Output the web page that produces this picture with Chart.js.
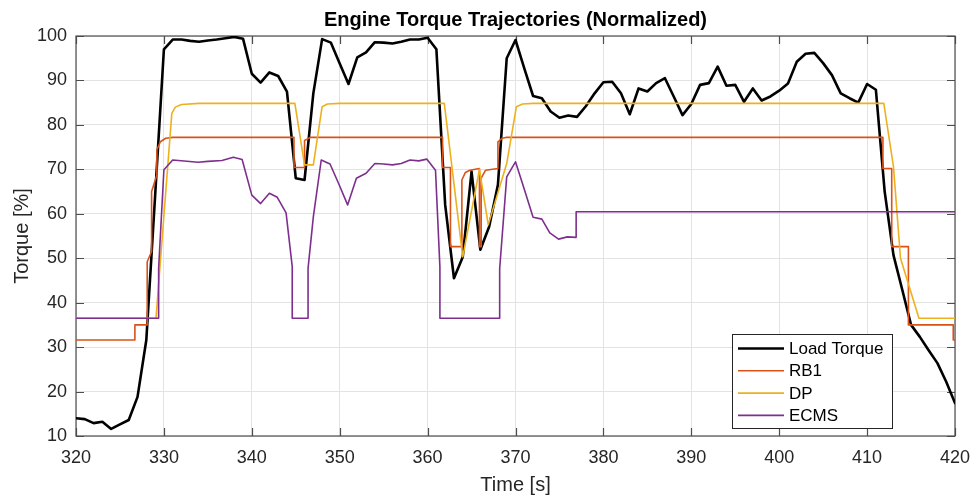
<!DOCTYPE html>
<html>
<head>
<meta charset="utf-8">
<title>Engine Torque Trajectories</title>
<script src="https://cdn.jsdelivr.net/npm/chart.js@4/dist/chart.umd.min.js"></script>
<style>
  html, body { margin: 0; padding: 0; background: #ffffff; }
  #wrap { width: 974px; height: 500px; }
</style>
</head>
<body>
<div id="wrap"><canvas id="c" width="974" height="500"></canvas></div>
<script>
// Load torque, sampled once per second
const loadTime = [
  320, 321, 322, 323, 324, 325, 326, 327, 328, 329,
  330, 331, 332, 333, 334, 335, 336, 337, 338, 339,
  340, 341, 342, 343, 344, 345, 346, 347, 348, 349,
  350, 351, 352, 353, 354, 355, 356, 357, 358, 359,
  360, 361, 362, 363, 364, 365, 366, 367, 368, 369,
  370, 371, 372, 373, 374, 375, 376, 377, 378, 379,
  380, 381, 382, 383, 384, 385, 386, 387, 388, 389,
  390, 391, 392, 393, 394, 395, 396, 397, 398, 399,
  400, 401, 402, 403, 404, 405, 406, 407, 408, 409,
  410, 411, 412, 413, 414, 415, 416, 417, 418, 419,
  420
];
const loadTorque = [
  14.0, 13.8, 12.9, 13.2, 11.6, 12.6, 13.6, 18.8, 31.6, 64.0,
  97.0, 99.2, 99.2, 98.9, 98.7, 99.0, 99.2, 99.5, 99.8, 99.4,
  91.5, 89.5, 91.8, 91.0, 87.5, 68.0, 67.6, 87.1, 99.3, 98.5,
  93.8, 89.2, 95.2, 96.3, 98.6, 98.5, 98.3, 98.7, 99.2, 99.2,
  99.6, 97.0, 62.0, 45.5, 50.3, 69.5, 51.9, 57.1, 66.5, 95.0,
  99.1, 92.7, 86.5, 86.0, 83.0, 81.6, 82.1, 81.8, 84.2, 87.1,
  89.6, 89.7, 87.1, 82.4, 88.2, 87.5, 89.4, 90.5, 86.4, 82.2,
  84.7, 89.0, 89.4, 93.1, 88.8, 89.0, 85.2, 88.2, 85.5, 86.4,
  87.7, 89.3, 94.2, 96.0, 96.2, 93.9, 91.2, 87.1, 86.0, 85.0,
  89.2, 87.9, 65.0, 50.7, 42.9, 35.0, 32.3, 29.3, 26.4, 22.2,
  17.4
];

// RB1 controller output (corner points of the stepped trajectory)
const rb1Time = [
  320, 326.7, 326.7, 328.1, 328.1, 328.6, 328.6, 329.2, 329.2, 329.6, 330.2, 331,
  344.8, 344.8, 346.0, 346.0, 346.7,
  361.7, 361.7, 362.6, 362.6, 363.9, 363.9, 364.3, 364.8, 365.9, 365.9, 366.1, 366.1, 366.6, 368.0, 368.0, 368.5, 369,
  411.8, 411.8, 412.8, 412.8, 414.7, 414.7, 419.8, 419.8, 420
];
const rb1Torque = [
  31.6, 31.6, 35.0, 35.0, 49.2, 51.5, 65.0, 68.7, 74.4, 76.2, 77.0, 77.2,
  77.2, 70.4, 70.4, 76.5, 77.2,
  77.2, 70.4, 70.4, 52.6, 52.6, 67.6, 69.3, 69.8, 70.2, 52.6, 52.6, 68.0, 69.8, 70.2, 76.2, 77.0, 77.2,
  77.2, 70.2, 70.2, 52.6, 52.6, 35.0, 35.0, 31.6, 31.6
];

// Dynamic programming benchmark
const dpTime = [
  320, 329.1, 330.9, 331.3, 332, 334,
  344.9, 346.0, 347.0, 348.0, 348.6, 350,
  361.9, 364.0, 365.9, 366.9, 369.0, 370.1, 370.8, 372,
  411.9, 413.0, 413.8, 415.9, 420
];
const dpTorque = [
  36.5, 36.5, 82.6, 84.0, 84.6, 84.85,
  84.85, 71.0, 71.0, 84.1, 84.7, 84.85,
  84.85, 50.3, 70.0, 57.5, 71.3, 84.1, 84.7, 84.85,
  84.85, 70.6, 50.0, 36.5, 36.5
];

// Equivalent consumption minimisation strategy
const ecmsTime = [
  320, 329.4, 329.4, 330.0, 331.0, 333.9, 335, 336.6, 337.9, 338.9,
  340.0, 341.0, 342.0, 342.9, 343.9, 344.6, 344.6, 346.4, 346.4, 347.0,
  347.9, 348.9, 349.9, 350.9, 351.9, 353.0, 354, 355, 356, 357,
  358, 359, 359.9, 360.9, 361.4, 361.4, 368.2, 368.2, 369, 370,
  371, 372, 373, 373.9, 374.9, 375.9, 376.9, 376.9, 420
];
const ecmsTorque = [
  36.5, 36.5, 47.7, 69.9, 72.1, 71.6, 71.8, 72.0, 72.7, 72.2,
  64.2, 62.3, 64.6, 63.7, 60.2, 48.1, 36.5, 36.5, 47.7, 59.3,
  72.1, 71.2, 66.7, 62.0, 68.0, 69.1, 71.3, 71.2, 71.0, 71.3,
  72.1, 71.9, 72.3, 69.8, 48.0, 36.5, 36.5, 47.7, 68.3, 71.7,
  65.5, 59.2, 58.8, 55.7, 54.3, 54.8, 54.7, 60.45, 60.45
];

const xTicks = [320, 330, 340, 350, 360, 370, 380, 390, 400, 410, 420];
const yTicks = [10, 20, 30, 40, 50, 60, 70, 80, 90, 100];

const FONT = '"Liberation Sans", Arial, Helvetica, sans-serif';
const TEXT = '#262626';

function pairs(xs, ys) {
  return xs.map((x, i) => ({ x: x, y: ys[i] }));
}

// Box around the axes with inward tick marks on all four sides
const axesBox = {
  id: 'axesBox',
  beforeDatasetsDraw(chart) {
    const { ctx, chartArea: a, scales } = chart;
    const len = 8;
    ctx.save();
    ctx.strokeStyle = '#4d4d4d';
    ctx.lineWidth = 1.2;
    ctx.beginPath();
    xTicks.forEach(v => {
      const px = Math.round(scales.x.getPixelForValue(v)) + 0.5;
      ctx.moveTo(px, a.bottom); ctx.lineTo(px, a.bottom - len);
      ctx.moveTo(px, a.top); ctx.lineTo(px, a.top + len);
    });
    yTicks.forEach(v => {
      const py = Math.round(scales.y.getPixelForValue(v)) + 0.5;
      ctx.moveTo(a.left, py); ctx.lineTo(a.left + len, py);
      ctx.moveTo(a.right, py); ctx.lineTo(a.right - len, py);
    });
    ctx.stroke();
    ctx.strokeRect(a.left, a.top, a.right - a.left, a.bottom - a.top);
    ctx.restore();
  }
};

// Legend box in the lower right of the axes
const boxLegend = {
  id: 'boxLegend',
  afterDraw(chart) {
    const { ctx, chartArea: a } = chart;
    const w = 160, h = 94;
    const x0 = a.right - 63 - w, y0 = a.bottom - 8 - h;
    ctx.save();
    ctx.fillStyle = '#ffffff';
    ctx.fillRect(x0, y0, w, h);
    ctx.strokeStyle = '#262626';
    ctx.lineWidth = 1;
    ctx.strokeRect(x0 + 0.5, y0 + 0.5, w, h);
    ctx.font = '17px ' + FONT;
    ctx.textBaseline = 'middle';
    ctx.textAlign = 'left';
    chart.data.datasets.forEach((ds, r) => {
      const cy = y0 + 14.5 + r * 22.3;
      ctx.strokeStyle = ds.borderColor;
      ctx.lineWidth = ds.borderWidth;
      ctx.beginPath();
      ctx.moveTo(x0 + 6, cy);
      ctx.lineTo(x0 + 52, cy);
      ctx.stroke();
      ctx.fillStyle = '#000000';
      ctx.fillText(ds.label, x0 + 57, cy + 1);
    });
    ctx.restore();
  }
};

new Chart(document.getElementById('c'), {
  type: 'line',
  data: {
    datasets: [
      { label: 'Load Torque', data: pairs(loadTime, loadTorque), borderColor: '#000000', borderWidth: 2.6, order: 4 },
      { label: 'RB1', data: pairs(rb1Time, rb1Torque), borderColor: '#D95319', borderWidth: 1.6, order: 3 },
      { label: 'DP', data: pairs(dpTime, dpTorque), borderColor: '#EDB120', borderWidth: 1.6, order: 2 },
      { label: 'ECMS', data: pairs(ecmsTime, ecmsTorque), borderColor: '#7E2F8E', borderWidth: 1.6, order: 1 }
    ]
  },
  options: {
    responsive: false,
    animation: false,
    events: [],
    layout: { padding: { left: 0, right: 19, top: 0, bottom: 0 } },
    elements: {
      point: { radius: 0 },
      line: { tension: 0, fill: false, borderJoinStyle: 'round', borderCapStyle: 'round' }
    },
    scales: {
      x: {
        type: 'linear',
        min: 320, max: 420,
        afterBuildTicks: s => { s.ticks = xTicks.map(v => ({ value: v })); },
        afterFit: s => { s.height = 64; s.paddingLeft = 0; s.paddingRight = 0; },
        grid: { color: '#e3e3e3', lineWidth: 1, drawTicks: false },
        border: { display: false },
        ticks: { color: TEXT, font: { family: FONT, size: 18 }, padding: 11, maxRotation: 0 },
        title: { display: true, text: 'Time [s]', color: TEXT, font: { family: FONT, size: 20 }, padding: { top: 0, bottom: 3 } }
      },
      y: {
        type: 'linear',
        min: 10, max: 100,
        afterBuildTicks: s => { s.ticks = yTicks.map(v => ({ value: v })); },
        afterFit: s => { s.width = 76; s.paddingTop = 0; s.paddingBottom = 0; },
        grid: { color: '#e3e3e3', lineWidth: 1, drawTicks: false },
        border: { display: false },
        ticks: { color: TEXT, font: { family: FONT, size: 18 }, padding: 9 },
        title: { display: true, text: 'Torque [%]', color: TEXT, font: { family: FONT, size: 20 }, padding: { top: 10, bottom: 0 } }
      }
    },
    plugins: {
      legend: { display: false },
      tooltip: { enabled: false },
      title: {
        display: true,
        fullSize: false,
        text: 'Engine Torque Trajectories (Normalized)',
        color: '#000000',
        font: { family: FONT, size: 20, weight: 'bold' },
        padding: { top: 8.5, bottom: 3.5 }
      }
    }
  },
  plugins: [axesBox, boxLegend]
});
</script>
</body>
</html>
